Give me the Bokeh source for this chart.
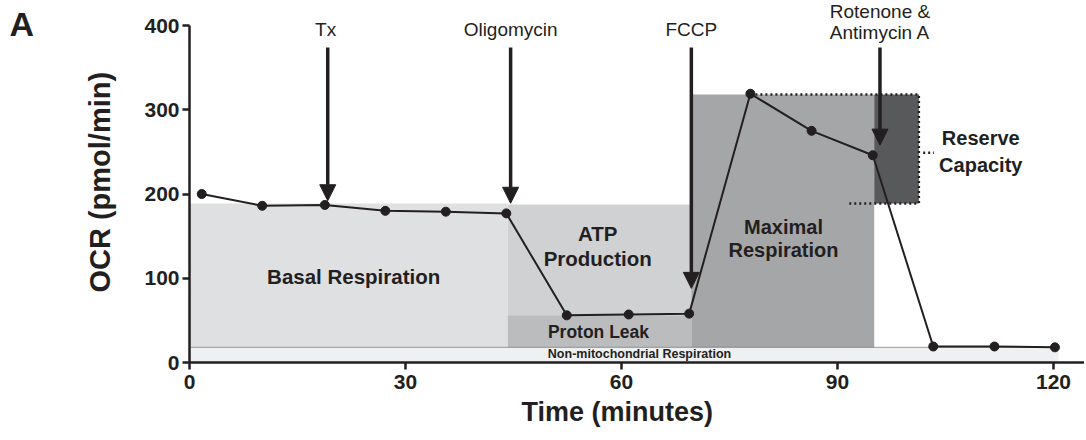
from bokeh.plotting import figure
from bokeh.models import Range1d, FixedTicker, Label, Arrow, NormalHead, LinearAxis
from bokeh.embed import file_html
from bokeh.resources import INLINE

# ---- data ----
time_min = [1.7, 10.1, 18.8, 27.2, 35.6, 44.0, 52.4, 61.0, 69.4, 77.9, 86.4, 94.9, 103.3, 111.8, 120.2]
ocr = [200, 186, 187, 180, 179, 177, 56, 57, 58, 319, 275, 246, 19, 19, 18]

inj_names = ["Tx", "Oligomycin", "FCCP", "Rotenone &\nAntimycin A"]
inj_time = [19.2, 44.6, 69.7, 95.9]
inj_tip = [192, 189, 88, 258]
inj_top = 374

region_names = ["Non-mitochondrial Respiration", "Basal Respiration", "ATP Production",
                "Proton Leak", "Maximal Respiration", "Reserve Capacity"]
region_left = [0, 0, 44.2, 44.2, 69.7, 95.1]
region_right = [120.7, 44.2, 69.7, 69.7, 95.1, 101.3]
region_bottom = [0, 18, 56, 18, 18, 188.7]
region_top = [18, 188.7, 187.5, 56, 318, 318]
region_colors = ["#eff0f1", "#dfe0e2", "#d0d1d3", "#bbbcbe", "#a5a6a8", "#58595b"]

x_ticks = [0, 30, 60, 90, 120]
y_ticks = [0, 100, 200, 300, 400]

INK = "#231f20"
FONT = "Liberation Sans"

W, H = 1084, 438
X0, Y0 = 189, 362          # pixel position of the origin
PX_X, PX_Y = 7.2, 0.8425   # pixels per unit
x_start, x_end = -X0 / PX_X, (W - X0) / PX_X
y_start, y_end = -(H - Y0) / PX_Y, Y0 / PX_Y

p = figure(width=W, height=H, x_range=Range1d(x_start, x_end), y_range=Range1d(y_start, y_end),
           output_backend="svg", toolbar_location=None,
           x_axis_location=None, y_axis_location=None,
           min_border_left=0, min_border_right=0, min_border_top=0, min_border_bottom=0)
p.xgrid.visible = False
p.ygrid.visible = False
p.outline_line_color = None
p.background_fill_color = "white"
p.border_fill_color = "white"

# regions
p.quad(left=region_left, right=region_right, bottom=region_bottom, top=region_top,
       fill_color=region_colors, line_color=None)

# non-mito dotted line
p.line([region_left[0], region_right[0]], [region_top[0], region_top[0]],
       line_color="#444444", line_width=1, line_dash="1 1")

# reserve capacity dotted border
p.line([time_min[9], region_right[5], region_right[5], 91.25],
       [region_top[5], region_top[5], region_bottom[5], region_bottom[5]],
       line_color=INK, line_width=2.5, line_dash="2 3")
p.line([101.9, 103.4], [249, 249], line_color=INK, line_width=2.5, line_dash="2 3")

# data
p.line(time_min, ocr, line_color=INK, line_width=2)
p.scatter(time_min, ocr, size=9, fill_color=INK, line_color=INK)

# arrows
for t, tip in zip(inj_time, inj_tip):
    p.add_layout(Arrow(end=NormalHead(size=16, fill_color=INK, line_color=INK, line_width=1),
                       x_start=t, y_start=inj_top, x_end=t, y_end=tip,
                       line_color=INK, line_width=3.5))

def lab(x, y, text, size, bold=True, angle=0.0, color=INK):
    p.add_layout(Label(x=x, y=y, text=text, text_font=FONT, text_font_size=f"{size}px",
                       text_font_style="bold" if bold else "normal",
                       text_color=color, text_align="center", text_baseline="middle",
                       angle=angle))

# injection labels
lab(inj_time[0] - 0.3, 395, inj_names[0], 19, bold=False)
lab(inj_time[1], 395, inj_names[1], 19, bold=False)
lab(inj_time[2], 395, inj_names[2], 19, bold=False)
r1, r2 = inj_names[3].split("\n")
lab(inj_time[3], 416.5, r1, 19, bold=False)
lab(inj_time[3], 392, r2, 19, bold=False)

# region labels
lab(22.8, 102, "Basal Respiration", 20.5)
lab(56.7, 153, "ATP", 20.5)
lab(56.7, 123, "Production", 20.5)
lab(56.8, 36, "Proton Leak", 17.5)
lab(62.5, 10.5, region_names[0], 12.5)
lab(82.5, 161, "Maximal", 20)
lab(82.5, 133, "Respiration", 20)
lab(109.9, 266, "Reserve", 20)
lab(109.9, 235, "Capacity", 20)

# axis titles & panel letter
lab(-12.4, 214, "OCR (pmol/min)", 29, angle=1.5707963)
lab(59.4, -58.2, "Time (minutes)", 27)
lab(-23.3, 402, "A", 34)

# axes (fixed at the origin)
xaxis = LinearAxis(fixed_location=0, bounds=(0, x_end), ticker=FixedTicker(ticks=x_ticks))
yaxis = LinearAxis(fixed_location=0, bounds=(0, 400), ticker=FixedTicker(ticks=y_ticks))
for ax in (xaxis, yaxis):
    ax.axis_line_color = INK
    ax.axis_line_width = 2.5
    ax.major_tick_line_color = INK
    ax.major_tick_line_width = 2.5
    ax.major_tick_out = 7
    ax.major_tick_in = 0
    ax.minor_tick_line_color = None
    ax.major_label_text_font = FONT
    ax.major_label_text_font_style = "bold"
    ax.major_label_text_font_size = "21px"
    ax.major_label_text_color = INK
xaxis.major_label_standoff = 5
yaxis.major_label_standoff = 3
p.add_layout(xaxis, "below")
p.add_layout(yaxis, "left")

open("out.html", "w").write(file_html(p, INLINE))
